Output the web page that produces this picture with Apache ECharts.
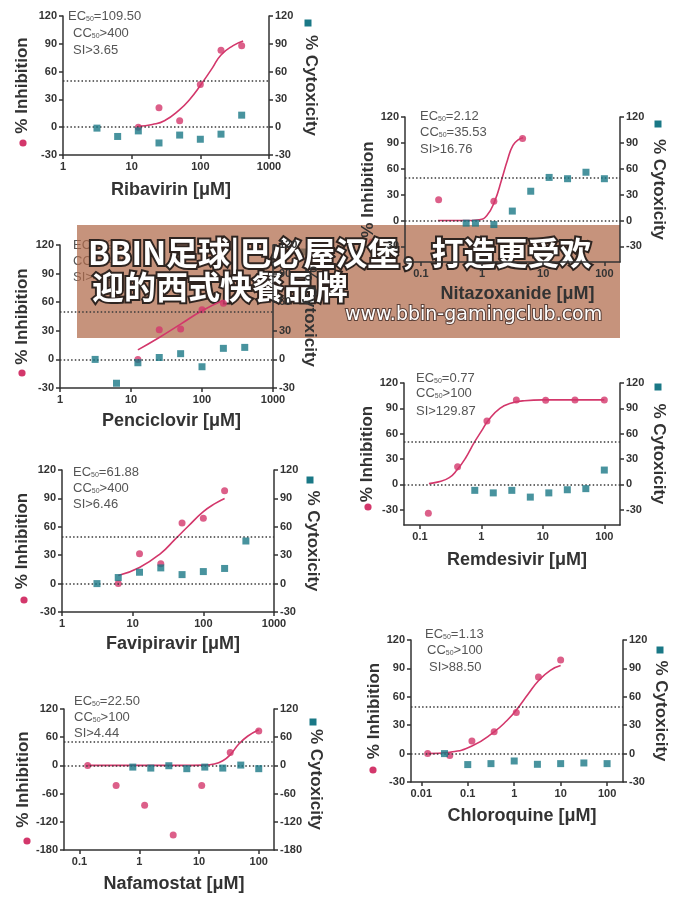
<!DOCTYPE html>
<html>
<head>
<meta charset="utf-8">
<title>Antiviral dose-response</title>
<script src="https://cdn.jsdelivr.net/npm/echarts@6/dist/echarts.min.js"></script>
<style>
  html, body { margin: 0; padding: 0; background: #fff; }
  #chart { width: 696px; height: 900px; }
</style>
</head>
<body>
<div id="chart"></div>
<script>
// concentrations (μM)
const dilution2x = [3.125, 6.25, 12.5, 25, 50, 100, 200, 400];
const dilution3x = [0.137, 0.41, 1.23, 3.7, 11.1, 33.3, 100];
const cytoConc100 = [0.78, 1.56, 3.125, 6.25, 12.5, 25, 50, 100];

// tick labels
const decades1to1000 = [1, 10, 100, 1000];
const decades01to100 = [0.1, 1, 10, 100];
const decades001to100 = [0.01, 0.1, 1, 10, 100];
const pctTicks = [-30, 0, 30, 60, 90, 120];
const wideTicks = [-180, -120, -60, 0, 60, 120];

// Ribavirin
const ribavirinInh = [null, null, 0, 21, 7, 46, 83, 88];
const ribavirinCyto = [-1, -10, -4, -17, -8.5, -13, -7.5, 13];
const ribavirinFitX = [12.5, 20, 30, 50, 70, 100, 150, 200, 300, 420];
const ribavirinFitY = [1, 3, 7, 19, 30, 45, 64, 78, 88, 93];
const ribavirinNotes = ['EC{s|50}=109.50', 'CC{s|50}>400', 'SI>3.65'];

// Nitazoxanide
const nitazoxanideInhX = [0.195, 1.56, 4.6];
const nitazoxanideInh = [24, 22.5, 95];
const nitazoxanideCytoX = [0.55, 0.78, 1.56, 3.125, 6.25, 12.5, 25, 50, 100];
const nitazoxanideCyto = [-3, -3, -4.6, 11, 34, 50, 48.5, 56, 48.5];
const nitazoxanideFitX = [0.19, 0.5, 0.9, 1.2, 1.6, 2.1, 2.6, 3.2, 4.0, 4.7];
const nitazoxanideFitY = [0, 0, 1, 6, 22, 48, 70, 87, 94, 96];
const nitazoxanideNotes = ['EC{s|50}=2.12', 'CC{s|50}=35.53', 'SI>16.76'];

// Penciclovir
const penciclovirInh = [null, null, 0, 31, 32, 52, 59, null];
const penciclovirCyto = [0, -25, -3.5, 2, 6, -7.7, 11.6, 12.6];
const penciclovirFitX = [12.5, 25, 50, 100, 200];
const penciclovirFitY = [10, 23, 37, 51, 62];
const penciclovirNotes = ['EC{s|50}=95.96', 'CC{s|50}>400', 'SI>4.17'];

// Remdesivir
const remdesivirInh = [-34, 21, 75, 100, 99.5, 100, 100];
const remdesivirCyto = [-7, -10, -7, -15, -10, -6.3, -5, 17];
const remdesivirFitX = [0.14, 0.2, 0.3, 0.4, 0.55, 0.77, 1, 1.3, 2, 3, 5, 10, 30, 100];
const remdesivirFitY = [1, 3, 8, 17, 31, 50, 63, 76, 90, 96, 99, 100, 100, 100];
const remdesivirNotes = ['EC{s|50}=0.77', 'CC{s|50}>100', 'SI>129.87'];

// Favipiravir
const favipiravirInh = [null, 0, 31.5, 21, 64, 69, 98, null];
const favipiravirCyto = [0, 6.4, 12, 16.6, 9.5, 12.7, 16, 45];
const favipiravirFitX = [6.25, 12.5, 25, 40, 60, 100, 150, 200];
const favipiravirFitY = [8.5, 17, 32, 47, 60, 76, 85, 90];
const favipiravirNotes = ['EC{s|50}=61.88', 'CC{s|50}>400', 'SI>6.46'];

// Chloroquine
const chloroquineInhX = [0.0137, 0.041, 0.123, 0.37, 1.11, 3.33, 10];
const chloroquineInh = [0, -2, 13.4, 23, 43.4, 81, 99];
const chloroquineCytoX = [0.0316, 0.1, 0.316, 1, 3.16, 10, 31.6, 100];
const chloroquineCyto = [0, -11.6, -10.6, -7.8, -11.3, -10.6, -9.9, -10.6];
const chloroquineFitX = [0.0137, 0.041, 0.123, 0.37, 0.7, 1.11, 2, 3.33, 6, 10];
const chloroquineFitY = [0, 1.5, 8, 23, 35, 46, 63, 77, 88, 93];
const chloroquineNotes = ['EC{s|50}=1.13', 'CC{s|50}>100', 'SI>88.50'];

// Nafamostat
const nafamostatInh = [0, -43, -85, -148, -43, 27.6, 73];
const nafamostatCyto = [-3.6, -5.7, -0.7, -7, -3.6, -5.7, 0.7, -7];
const nafamostatFitX = [0.137, 1, 5, 12, 18, 25, 33, 46, 65, 100];
const nafamostatFitY = [0, 0, 0, 0.5, 3, 10, 22, 45, 62, 76];
const nafamostatNotes = ['EC{s|50}=22.50', 'CC{s|50}>100', 'SI>4.44'];

const panels = [
  { drug: 'Ribavirin', inhX: dilution2x, inh: ribavirinInh, cytoX: dilution2x, cyto: ribavirinCyto, fitX: ribavirinFitX, fitY: ribavirinFitY, notes: ribavirinNotes, xTicks: decades1to1000, yTicks: pctTicks },
  { drug: 'Nitazoxanide', inhX: nitazoxanideInhX, inh: nitazoxanideInh, cytoX: nitazoxanideCytoX, cyto: nitazoxanideCyto, fitX: nitazoxanideFitX, fitY: nitazoxanideFitY, notes: nitazoxanideNotes, xTicks: decades01to100, yTicks: pctTicks },
  { drug: 'Penciclovir', inhX: dilution2x, inh: penciclovirInh, cytoX: dilution2x, cyto: penciclovirCyto, fitX: penciclovirFitX, fitY: penciclovirFitY, notes: penciclovirNotes, xTicks: decades1to1000, yTicks: pctTicks },
  { drug: 'Remdesivir', inhX: dilution3x, inh: remdesivirInh, cytoX: cytoConc100, cyto: remdesivirCyto, fitX: remdesivirFitX, fitY: remdesivirFitY, notes: remdesivirNotes, xTicks: decades01to100, yTicks: pctTicks },
  { drug: 'Favipiravir', inhX: dilution2x, inh: favipiravirInh, cytoX: dilution2x, cyto: favipiravirCyto, fitX: favipiravirFitX, fitY: favipiravirFitY, notes: favipiravirNotes, xTicks: decades1to1000, yTicks: pctTicks },
  { drug: 'Chloroquine', inhX: chloroquineInhX, inh: chloroquineInh, cytoX: chloroquineCytoX, cyto: chloroquineCyto, fitX: chloroquineFitX, fitY: chloroquineFitY, notes: chloroquineNotes, xTicks: decades001to100, yTicks: pctTicks },
  { drug: 'Nafamostat', inhX: dilution3x, inh: nafamostatInh, cytoX: cytoConc100, cyto: nafamostatCyto, fitX: nafamostatFitX, fitY: nafamostatFitY, notes: nafamostatNotes, xTicks: decades01to100, yTicks: wideTicks }
];

// where each panel sits: plot box, axis ranges, name gaps, key and note positions
const layout = [
  { box: [63, 16, 206, 139], x: [1, 1000], y: [-30, 120], gaps: [32, 33, 26], keyInh: [23, 143], keyCyto: [308, 23], notes: [[68, 16], [73, 33], [73, 50]] },
  { box: [405, 117, 215, 145], x: [0.055, 180], y: [-48, 120], gaps: [24, 30, 23], keyInh: [372, 242], keyCyto: [658, 124], notes: [[420, 116], [420, 132], [420, 149]] },
  { box: [60, 245, 213, 143], x: [1, 1000], y: [-30, 120], gaps: [29, 23, 24], keyInh: [22, 373], keyCyto: [304, 252], notes: [[73, 245], [73, 261], [73, 277]] },
  { box: [404, 383, 216, 142], x: [0.055, 180], y: [-48, 120], gaps: [28, 30, 26], keyInh: [368, 507], keyCyto: [658, 387], notes: [[416, 378], [416, 393], [416, 411]] },
  { box: [62, 470, 212, 142], x: [1, 1000], y: [-30, 120], gaps: [31, 30, 23], keyInh: [24, 600], keyCyto: [310, 480], notes: [[73, 472], [73, 488], [73, 504]] },
  { box: [411, 640, 212, 142], x: [0.006, 220], y: [-30, 120], gaps: [28, 29, 25], keyInh: [373, 770], keyCyto: [660, 650], notes: [[425, 634], [427, 650], [429, 667]] },
  { box: [64, 709, 210, 141], x: [0.055, 180], y: [-180, 120], gaps: [27, 33, 25], keyInh: [27, 841], keyCyto: [313, 722], notes: [[74, 701], [74, 717], [74, 733]] }
];

const FONT = '"Liberation Sans", Arial, Helvetica, sans-serif';
const RED = '#d3376b';
const TEAL = '#1a7886';
const INK = '#333';

function pairs(xs, ys) {
  const out = [];
  xs.forEach((x, k) => { if (ys[k] !== null && ys[k] !== undefined) out.push([x, ys[k]]); });
  return out;
}

function tickText(v) {
  return String(parseFloat(Number(v).toPrecision(4)));
}

const option = {
  animation: false,
  backgroundColor: '#fff',
  grid: [],
  xAxis: [],
  yAxis: [],
  series: [],
  graphic: []
};

panels.forEach((p, i) => {
  const L = layout[i];
  option.grid.push({ left: L.box[0], top: L.box[1], width: L.box[2], height: L.box[3], outerBoundsMode: 'none' });

  option.xAxis.push({
    type: 'log', logBase: 10, gridIndex: i, min: L.x[0], max: L.x[1],
    name: p.drug + ' [μM]', nameLocation: 'middle', nameGap: L.gaps[2],
    nameTextStyle: { fontFamily: FONT, fontSize: 18, fontWeight: 'bold', color: INK, padding: [0, 0, 0, 10] },
    axisLine: { onZero: false, lineStyle: { color: INK, width: 1.5 } },
    axisTick: { customValues: p.xTicks, length: 4, lineStyle: { color: INK, width: 1.5 } },
    axisLabel: { customValues: p.xTicks, formatter: tickText, fontFamily: FONT, fontSize: 11, fontWeight: 'bold', color: INK, margin: 6 },
    splitLine: { show: false },
    minorTick: { show: false }
  });

  const yBase = {
    type: 'value', gridIndex: i, min: L.y[0], max: L.y[1],
    nameLocation: 'middle',
    nameTextStyle: { fontFamily: FONT, fontSize: 17, fontWeight: 'bold', color: INK },
    axisLine: { show: true, onZero: false, lineStyle: { color: INK, width: 1.5 } },
    axisTick: { show: true, customValues: p.yTicks, length: 4, lineStyle: { color: INK, width: 1.5 } },
    axisLabel: { customValues: p.yTicks, fontFamily: FONT, fontSize: 11, fontWeight: 'bold', color: INK, margin: 6 },
    splitLine: { show: false }
  };
  option.yAxis.push(Object.assign({}, yBase, { position: 'left', name: '% Inhibition', nameRotate: 90, nameGap: L.gaps[0] }));
  option.yAxis.push(Object.assign({}, yBase, { position: 'right', name: '% Cytoxicity', nameRotate: -90, nameGap: L.gaps[1] }));

  // fitted curve
  option.series.push({
    name: p.drug + ' fit', type: 'line', xAxisIndex: i, yAxisIndex: 2 * i,
    data: pairs(p.fitX, p.fitY), smooth: true, showSymbol: false, silent: true,
    lineStyle: { color: RED, width: 1.6 }, z: 2
  });
  // inhibition points + 0 / 50 guide lines
  option.series.push({
    name: p.drug + ' inhibition', type: 'scatter', xAxisIndex: i, yAxisIndex: 2 * i,
    data: pairs(p.inhX, p.inh), symbol: 'circle', symbolSize: 7,
    itemStyle: { color: RED }, z: 4,
    markLine: {
      silent: true, symbol: 'none', label: { show: false },
      lineStyle: { color: '#3a3a3a', width: 1.5, type: [1.5, 2.2] },
      data: [{ yAxis: 50 }, { yAxis: 0 }]
    }
  });
  // cytotoxicity points (right axis)
  option.series.push({
    name: p.drug + ' cytotoxicity', type: 'scatter', xAxisIndex: i, yAxisIndex: 2 * i + 1,
    data: pairs(p.cytoX, p.cyto), symbol: 'rect', symbolSize: 7,
    itemStyle: { color: TEAL }, z: 5
  });

  // series keys next to the axis titles
  option.graphic.push({ type: 'circle', shape: { cx: L.keyInh[0], cy: L.keyInh[1], r: 3.6 }, style: { fill: RED } });
  option.graphic.push({ type: 'rect', shape: { x: L.keyCyto[0] - 3.5, y: L.keyCyto[1] - 3.5, width: 7, height: 7 }, style: { fill: TEAL } });

  // EC50 / CC50 / SI notes
  p.notes.forEach((t, k) => {
    option.graphic.push({
      type: 'text', x: L.notes[k][0], y: L.notes[k][1],
      style: {
        text: t, fill: '#555', fontSize: 13, fontFamily: FONT, verticalAlign: 'middle',
        rich: { s: { fontSize: 7, fill: '#555', fontFamily: FONT, verticalAlign: 'bottom', padding: [5, 0, 0, 0] } }
      }
    });
  });
});

// overlay banner pasted on the figure
option.graphic.push({
  type: 'group', z: 100,
  children: [
    { type: 'rect', shape: { x: 77, y: 225, width: 543, height: 113 }, style: { fill: 'rgba(176,105,74,0.72)' } },
    { type: 'text', x: 88, y: 253, style: { text: 'BBIN足球|巴必屋汉堡，打造更受欢', fill: '#fff', stroke: '#2e2420', lineWidth: 4, strokeFirst: true, fontSize: 32, fontWeight: 'bold', fontFamily: '"Noto Sans CJK SC", sans-serif', verticalAlign: 'middle' } },
    { type: 'text', x: 92, y: 287, style: { text: '迎的西式快餐品牌', fill: '#fff', stroke: '#2e2420', lineWidth: 4, strokeFirst: true, fontSize: 32, fontWeight: 'bold', fontFamily: '"Noto Sans CJK SC", sans-serif', verticalAlign: 'middle' } },
    { type: 'text', x: 345, y: 315, style: { text: 'www.bbin-gamingclub.com', fill: '#fff', stroke: '#5a4038', lineWidth: 2, strokeFirst: true, fontSize: 19, fontFamily: '"DejaVu Sans", sans-serif', verticalAlign: 'middle' } }
  ]
});

const chart = echarts.init(document.getElementById('chart'), null, { renderer: 'canvas' });
chart.setOption(option);
</script>
</body>
</html>
